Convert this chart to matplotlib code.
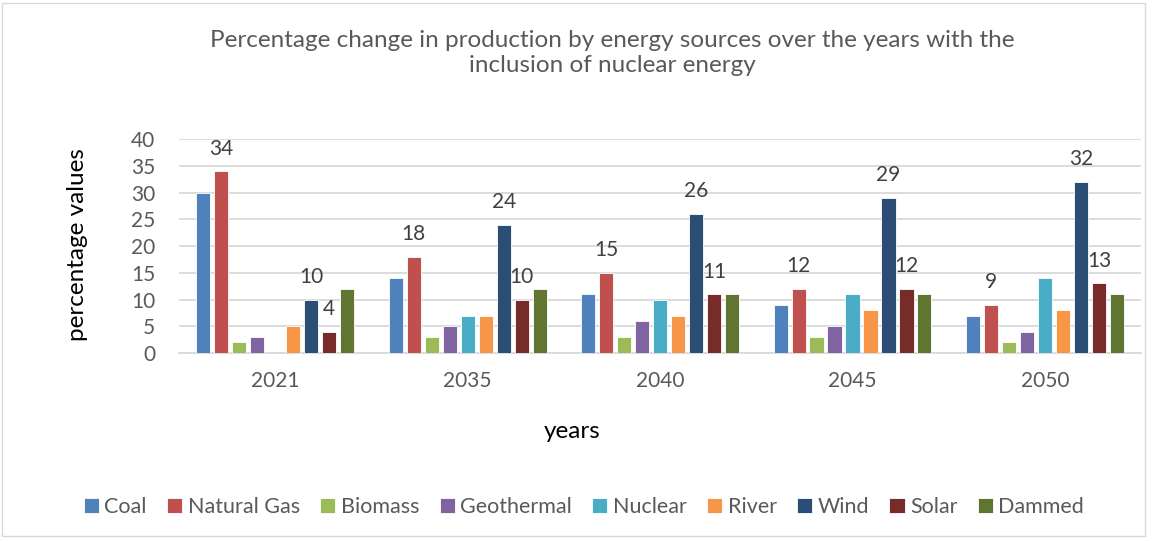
import matplotlib
matplotlib.use("Agg")
import matplotlib.pyplot as plt
import numpy as np
from matplotlib.patches import Rectangle

plt.rcParams['font.family'] = ['Lato', 'DejaVu Sans']

years = ["2021", "2035", "2040", "2045", "2050"]
series = ["Coal", "Natural Gas", "Biomass", "Geothermal", "Nuclear", "River", "Wind", "Solar", "Dammed"]
coal = [30, 14, 11, 9, 7]
natural_gas = [34, 18, 15, 12, 9]
biomass = [2, 3, 3, 3, 2]
geothermal = [3, 5, 6, 5, 4]
nuclear = [0, 7, 10, 11, 14]
river = [5, 7, 7, 8, 8]
wind = [10, 24, 26, 29, 32]
solar = [4, 10, 11, 12, 13]
dammed = [12, 12, 11, 11, 11]
values = [coal, natural_gas, biomass, geothermal, nuclear, river, wind, solar, dammed]
colors = ["#4F81BD", "#C0504D", "#9BBB59", "#8064A2", "#4BACC6", "#F79646", "#2C4D75", "#772C2A", "#5F7530"]
labeled = {"Natural Gas", "Wind", "Solar"}

fig = plt.figure(figsize=(11.55, 5.41), dpi=100)
ax = fig.add_axes([0.155, 0.3475, 0.833, 0.3955])

x = np.arange(len(years))
slot = 0.0935
width = 0.073
for i, (name, vals, c) in enumerate(zip(series, values, colors)):
    pos = x + (i - 4) * slot
    ax.bar(pos, vals, width, color=c, label=name, edgecolor='white', linewidth=0.6, zorder=3)
    if name in labeled:
        for p, v in zip(pos, vals):
            ax.annotate(str(v), (p, v), xytext=(0, 9), textcoords='offset points',
                        ha='center', va='bottom', fontsize=15, color='#404040')

ax.set_ylim(0, 40)
ax.set_xlim(-0.5, 4.5)
ax.set_yticks(range(0, 41, 5))
ax.set_xticks(x)
ax.set_xticklabels(years)
ax.yaxis.grid(True, color='#d9d9d9', linewidth=1.3, zorder=0)
for s in ['top', 'right', 'left']:
    ax.spines[s].set_visible(False)
ax.spines['bottom'].set_color('#d9d9d9')
ax.spines['bottom'].set_linewidth(1.3)
ax.tick_params(axis='both', length=0, labelsize=15, labelcolor='#595959')
ax.tick_params(axis='y', pad=17)
ax.tick_params(axis='x', pad=13)

fig.text(78 / 1155, 1 - 245 / 541, "percentage values", rotation=90, ha='center', va='center',
         fontsize=17.5, color='black')
fig.text(572 / 1155, 1 - 432 / 541, "years", ha='center', va='center', fontsize=17.5, color='black')

fig.text(612 / 1155, 1 - 53 / 541, "Percentage change in production by energy sources over the years with the\ninclusion of nuclear energy",
         ha='center', va='center', fontsize=17.5, color='#595959', linespacing=1.2)

ax.legend(loc='center', bbox_to_anchor=(584 / 1155, 1 - 507 / 541), bbox_transform=fig.transFigure, ncol=9,
          frameon=False, fontsize=15.5, handlelength=0.7, handleheight=0.7, handletextpad=0.25,
          columnspacing=0.95, labelcolor='#595959')

fig.patches.append(Rectangle((0.002, 0.01), 0.989, 0.985, transform=fig.transFigure,
                             fill=False, edgecolor='#d9d9d9', linewidth=1))

fig.savefig("out.png", dpi=100)
